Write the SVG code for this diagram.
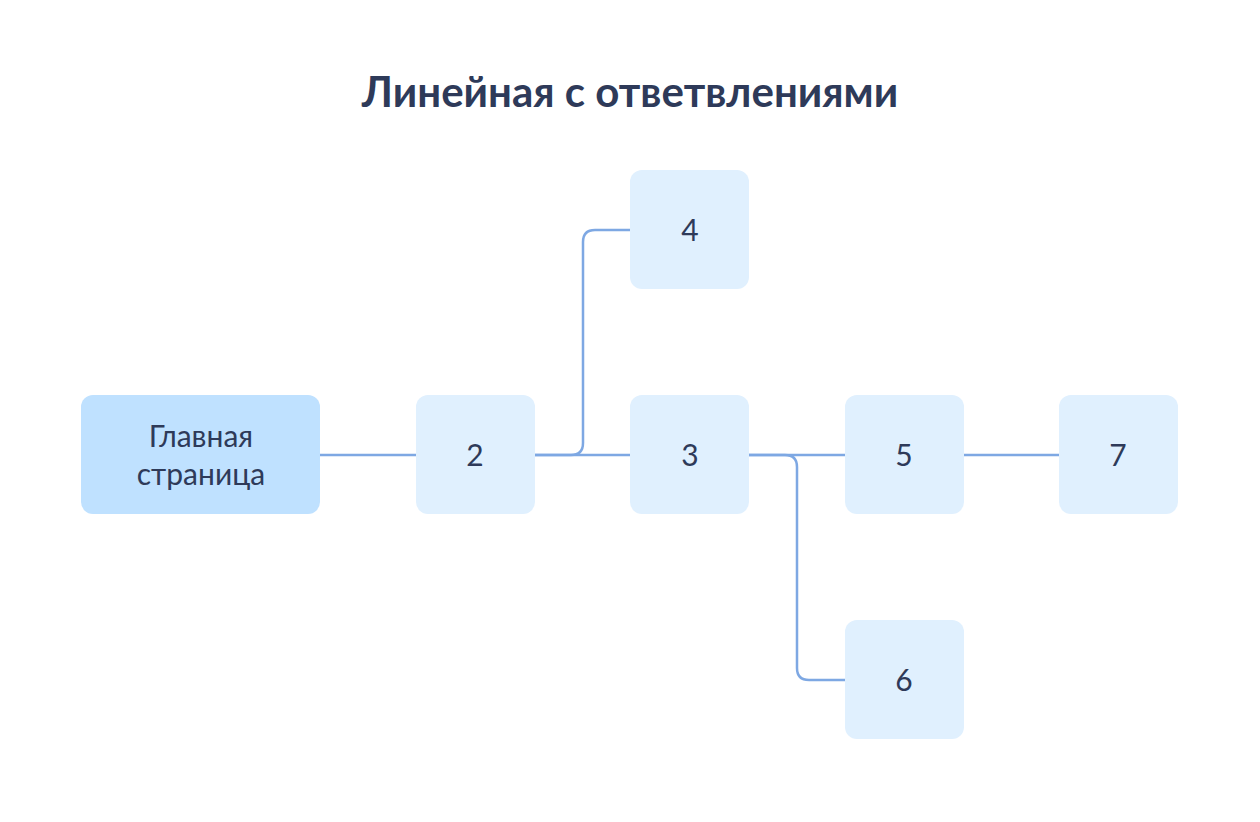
<svg xmlns="http://www.w3.org/2000/svg" width="1260" height="822" viewBox="0 0 1260 822">
<style>
.n{fill:#E0F0FE}
.m{fill:#BFE1FF}
.t{font-family:Lato,"Open Sans",sans-serif;font-size:30px;fill:#2E3A59;text-anchor:middle}
.c{fill:none;stroke:#7EA8E3;stroke-width:2.5}
</style>
<rect width="1260" height="822" fill="#fff"/>
<text x="630" y="107" font-family="Lato,'Open Sans',sans-serif" font-size="42" font-weight="bold" fill="#2E3A59" text-anchor="middle">Линейная с ответвлениями</text>
<g id="connectors">
<path class="c" d="M320 455H416"/>
<path class="c" d="M535 455H630"/>
<path class="c" d="M535 455H571Q583 455 583 443V242Q583 230 595 230H630"/>
<path class="c" d="M749 455H845"/>
<path class="c" d="M749 455H785Q797 455 797 467V668Q797 680 809 680H845"/>
<path class="c" d="M964 455H1059"/>
</g>
<g id="main"><rect class="m" x="81" y="395" width="239" height="119" rx="12"/><text class="t" x="201" y="447">Главная</text><text class="t" x="201" y="485">страница</text></g>
<g id="n2"><rect class="n" x="416" y="395" width="119" height="119" rx="12"/><text class="t" x="475" y="466">2</text></g>
<g id="n3"><rect class="n" x="630" y="395" width="119" height="119" rx="12"/><text class="t" x="690" y="466">3</text></g>
<g id="n4"><rect class="n" x="630" y="170" width="119" height="119" rx="12"/><text class="t" x="690" y="241">4</text></g>
<g id="n5"><rect class="n" x="845" y="395" width="119" height="119" rx="12"/><text class="t" x="904" y="466">5</text></g>
<g id="n6"><rect class="n" x="845" y="620" width="119" height="119" rx="12"/><text class="t" x="904" y="691">6</text></g>
<g id="n7"><rect class="n" x="1059" y="395" width="119" height="119" rx="12"/><text class="t" x="1118" y="466">7</text></g>
</svg>
